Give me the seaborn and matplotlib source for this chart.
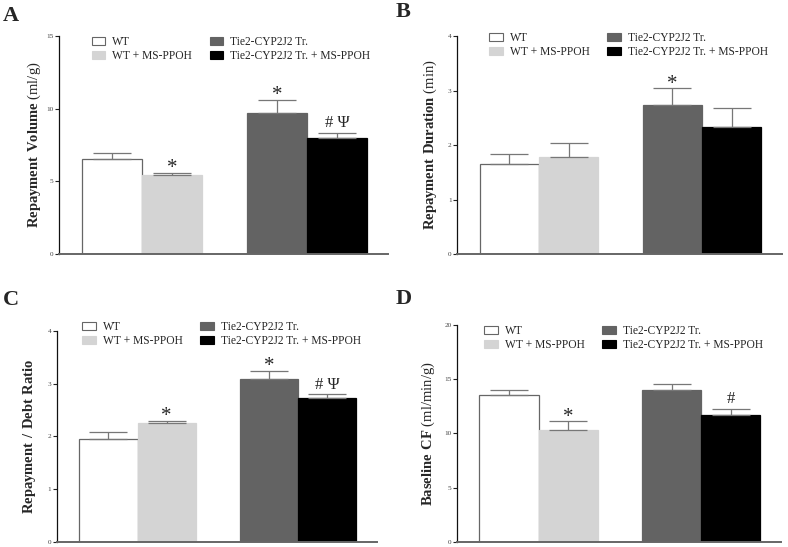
import numpy as np
import pandas as pd
import matplotlib
matplotlib.use("Agg")
import matplotlib.pyplot as plt
import seaborn as sns
from matplotlib.patches import Patch

sns.set_style("white")
plt.rcParams["font.family"] = ["Liberation Serif", "DejaVu Serif"]
plt.rcParams["mathtext.fontset"] = "custom"
plt.rcParams["mathtext.rm"] = "Liberation Serif"
plt.rcParams["mathtext.bf"] = "Liberation Serif:bold"

groups = ["WT", "WT + MS-PPOH", "Tie2-CYP2J2 Tr.", "Tie2-CYP2J2 Tr. + MS-PPOH"]
colors = ["#ffffff", "#d4d4d4", "#636363", "#000000"]
positions = [0, 1, 2.75, 3.75]

# means and top of error bar (mean + SEM)
volume = [6.55, 5.47, 9.71, 7.95]
volume_err = [6.98, 5.61, 10.63, 8.36]
duration = [1.65, 1.78, 2.74, 2.33]
duration_err = [1.83, 2.03, 3.04, 2.68]
ratio = [1.95, 2.25, 3.08, 2.72]
ratio_err = [2.09, 2.30, 3.25, 2.80]
baseline = [13.55, 10.32, 13.97, 11.66]
baseline_err = [14.03, 11.11, 14.58, 12.27]

marks_a = ["", "*", "*", "# \u03a8"]
marks_b = ["", "", "*", ""]
marks_c = ["", "*", "*", "# \u03a8"]
marks_d = ["", "*", "", "#"]


def panel(ax, vals, errs, marks, ymax, yticks, ylabel, label_x, leg_anchor):
    df = pd.DataFrame({"pos": positions, "value": vals, "group": groups})
    sns.barplot(data=df, x="pos", y="value", hue="group", hue_order=groups,
                palette=colors, native_scale=True, dodge=False, width=1.0,
                legend=False, ax=ax, saturation=1)
    for p in ax.patches:
        fc = p.get_facecolor()
        p.set_edgecolor("#666666" if fc[0] > 0.99 else fc)
        p.set_linewidth(0.9)
    lo = np.zeros(4)
    hi = np.array(errs) - np.array(vals)
    ax.errorbar(positions, vals, yerr=[lo, hi], fmt="none", ecolor="#777777",
                elinewidth=0.9, capsize=14, capthick=0.9, zorder=1)
    for x, e, m in zip(positions, errs, marks):
        if m == "*":
            ax.annotate(m, (x, e), xytext=(0, -4), textcoords="offset points",
                        ha="center", va="bottom", fontsize=15)
        elif m:
            ax.annotate(m, (x, e), xytext=(0, 1), textcoords="offset points",
                        ha="center", va="bottom", fontsize=12)
    ax.set_xlim(-0.88, 4.6)
    ax.set_ylim(0, ymax)
    ax.set_yticks(yticks)
    ax.set_yticklabels([str(t) for t in yticks], fontsize=5.2, color="#444444")
    ax.set_xticks([])
    ax.set_xlabel("")
    ax.set_ylabel(ylabel, fontsize=10.5)
    ax.yaxis.set_label_coords(label_x, 0.5)
    ax.tick_params(axis="y", direction="out", length=3, width=0.8, pad=1,
                   left=True, color="#222222")
    sns.despine(ax=ax)
    ax.spines["left"].set_color("#111111")
    ax.spines["left"].set_linewidth(0.9)
    ax.spines["bottom"].set_color("#666666")
    ax.spines["bottom"].set_linewidth(1.4)
    handles = [Patch(facecolor=c, edgecolor="#666666" if c == "#ffffff" else c,
                     linewidth=0.8) for c in colors]
    ax.legend(handles, groups, ncol=2, loc="upper left", bbox_to_anchor=leg_anchor,
              frameon=False, fontsize=8.3, handlelength=1.2, handleheight=0.7,
              handletextpad=0.6, columnspacing=1.5, labelspacing=0.15,
              borderaxespad=0)


fig = plt.figure(figsize=(7.88, 5.47), dpi=100)
ax_a = fig.add_axes([0.0749, 0.5356, 0.4175, 0.3985])
ax_b = fig.add_axes([0.58, 0.5356, 0.4124, 0.3985])
ax_c = fig.add_axes([0.0723, 0.0095, 0.406, 0.3854])
ax_d = fig.add_axes([0.58, 0.0095, 0.411, 0.3964])

panel(ax_a, volume, volume_err, marks_a, 15, [0, 5, 10, 15],
      r"$\mathbf{Repayment\ Volume}$ (ml/g)", -0.049, (0.085, 1.02))
panel(ax_b, duration, duration_err, marks_b, 4, [0, 1, 2, 3, 4],
      r"$\mathbf{Repayment\ Duration}$ (min)", -0.055, (0.085, 1.04))
panel(ax_c, ratio, ratio_err, marks_c, 4, [0, 1, 2, 3, 4],
      r"$\mathbf{Repayment\ /\ Debt\ Ratio}$", -0.059, (0.065, 1.07))
panel(ax_d, baseline, baseline_err, marks_d, 20, [0, 5, 10, 15, 20],
      r"$\mathbf{Baseline\ CF}$ (ml/min/g)", -0.062, (0.07, 1.02))

for lab, x, y in [("A", 3, 6), ("B", 396, 2), ("C", 3, 290), ("D", 396, 289)]:
    fig.text(x / 788, 1 - y / 547, lab, fontsize=16, fontweight="bold",
             ha="left", va="top")

fig.savefig("out.png", dpi=100)
